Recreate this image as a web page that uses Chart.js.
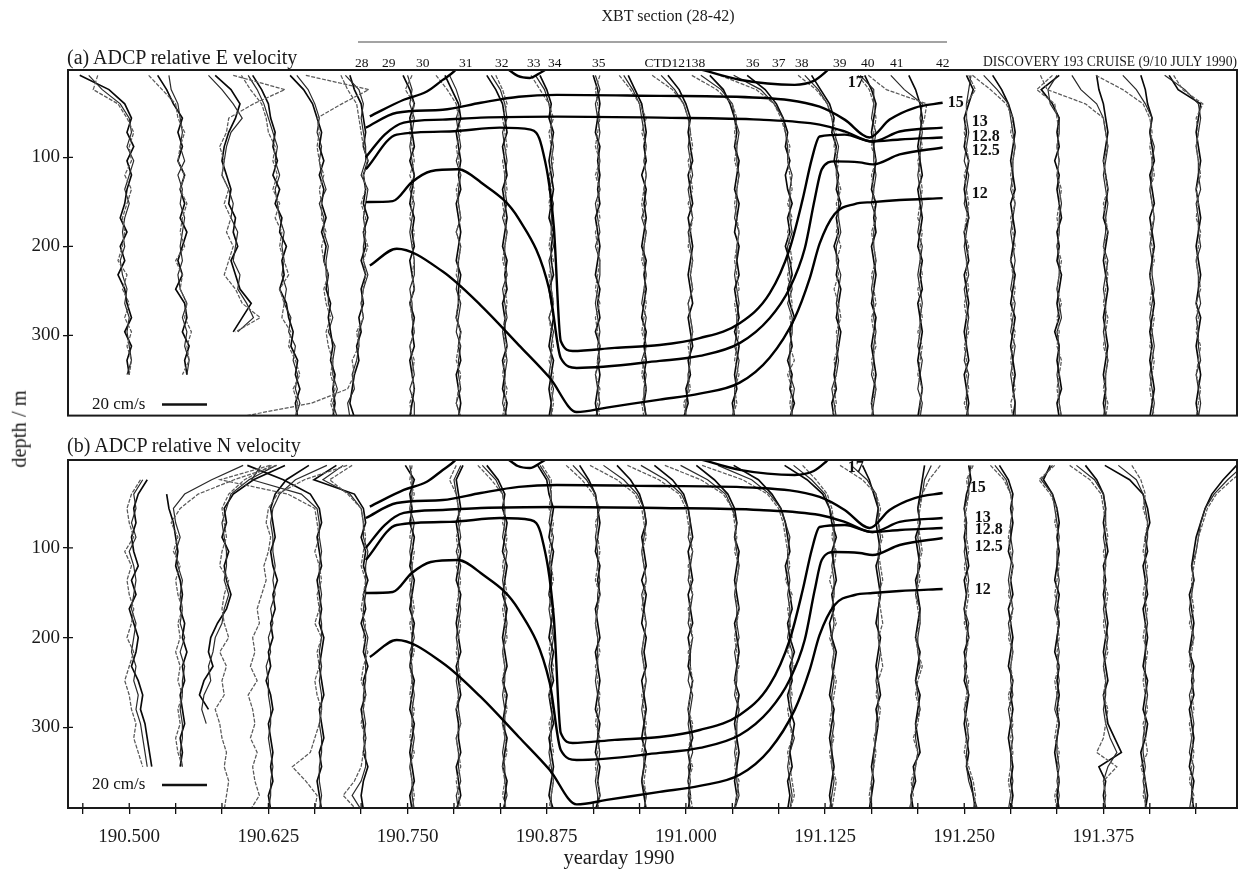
<!DOCTYPE html>
<html>
<head>
<meta charset="utf-8">
<title>ADCP relative velocity profiles, Discovery 193</title>
<script src="https://cdn.jsdelivr.net/npm/chart.js@4.4.1/dist/chart.umd.min.js"></script>
<style>
  html, body { margin: 0; padding: 0; background: #fff; }
  #page { position: relative; width: 1238px; height: 873px; overflow: hidden; background: #fff;
          font-family: 'Liberation Serif', 'Times New Roman', serif; color: #1a1a1a; }
  canvas { position: absolute; left: 0; }
  .t { position: absolute; white-space: nowrap; line-height: 1; z-index: 2; }
  .rule { position: absolute; left: 358px; top: 41px; width: 589px; height: 2px; background: #a3a3a3; }
</style>
</head>
<body>
<div id="page">
  <canvas id="chartE" width="1238" height="430" style="top:0;width:1238px;height:430px"></canvas>
  <canvas id="chartN" width="1238" height="443" style="top:430px;width:1238px;height:443px"></canvas>

  <div class="t" style="left:668px;top:8px;font-size:16px;transform:translateX(-50%)">XBT section (28-42)</div>
  <div class="rule"></div>
  <div class="t" style="right:1px;top:55px;font-size:13.6px">DISCOVERY 193 CRUISE (9/10 JULY 1990)</div>
  <div class="t" style="left:67px;top:47px;font-size:20px">(a) ADCP relative E velocity</div>
  <div class="t" style="left:67px;top:435px;font-size:20px">(b) ADCP relative N velocity</div>
  <div class="t" style="left:19px;top:429px;font-size:20.5px;transform:translate(-50%,-50%) rotate(-90deg)">depth / m</div>
  <div class="t" style="left:619px;top:847px;font-size:20.5px;transform:translateX(-50%)">yearday 1990</div>
</div>

<script>
// ---- axes ----
const X_MIN = 190.445, X_MAX = 191.495;   // yearday 1990
const Y_MIN = 2, Y_MAX = 390;             // depth, m
const depthTicks = [100, 200, 300];
const hourTicks = [190.4583, 190.5000, 190.5417, 190.5833, 190.6250, 190.6667, 190.7083, 190.7500,
                   190.7917, 190.8333, 190.8750, 190.9167, 190.9583, 191.0000, 191.0417, 191.0833,
                   191.1250, 191.1667, 191.2083, 191.2500, 191.2917, 191.3333, 191.3750, 191.4167, 191.4583];
const tickLabels = ['', '190.500', '', '', '190.625', '', '', '190.750', '', '', '190.875', '', '',
                    '191.000', '', '', '191.125', '', '', '191.250', '', '', '191.375', '', ''];

// ---- hourly ADCP profiles ----
const profileDays = [190.5000, 190.5417, 190.5833, 190.6250, 190.6667, 190.7083, 190.7500, 190.7917,
                     190.8333, 190.8750, 190.9167, 190.9583, 191.0000, 191.0417, 191.0833, 191.1250,
                     191.1667, 191.2083, 191.2500, 191.2917, 191.3333, 191.3750, 191.4167, 191.4583];
const depthLevels = [8, 24, 40, 56, 72, 88, 104, 120, 136, 152, 168, 184, 200,
                     216, 232, 248, 264, 280, 296, 312, 328, 344, 360, 376, 392];

// relative E velocity, cm/s (one row per profile, one value per depth level); three ensembles
const eastDark = [
  [-22,-9,-2,1,-1,2,-1,1,-1,-2,-4,-1,-4,-2,-5,-2,-1,1,-2,1,-1,0,null,null,null],
  [-8,-4,-1,3,1,3,1,4,2,4,2,5,3,1,3,0,4,5,3,6,4,5,null,null,null],
  [-3,4,8,6,3,1,0,2,4,3,6,5,7,4,6,8,13,9,5,null,null,null,null,null,null],
  [-7,-3,0,1,3,2,4,2,5,3,6,5,8,6,7,5,8,9,11,10,13,12,14,12,13],
  [-11,-5,-1,1,3,2,4,2,4,3,5,3,5,4,6,5,7,6,7,8,7,9,8,9,8],
  [-5,-3,0,1,2,1,3,1,2,1,3,1,2,0,2,0,1,-1,0,-2,-1,-3,-4,-5,-3],
  [-2,1,3,1,2,3,1,3,2,1,3,2,3,1,2,3,1,3,2,3,1,2,3,2,1],
  [-4,-1,2,3,1,2,3,2,3,1,2,3,2,1,3,2,2,1,3,2,3,1,2,3,2],
  [-6,-2,1,2,3,1,2,3,1,2,3,2,1,3,2,3,1,2,2,3,1,2,1,3,2],
  [-3,0,2,1,3,2,1,2,3,2,1,3,2,2,3,1,2,3,2,1,3,2,1,2,1],
  [0,2,3,2,1,3,2,3,2,3,1,2,3,2,1,3,2,3,1,3,2,3,2,1,2],
  [-5,-2,1,2,3,2,3,1,3,2,3,2,1,3,2,3,2,1,3,2,3,2,3,2,3],
  [-8,-3,0,2,1,2,3,1,2,3,1,2,3,2,1,2,3,1,2,3,1,2,0,1,-1],
  [-10,-4,-1,1,2,1,3,2,1,3,2,1,3,2,3,1,2,3,1,3,2,1,2,0,1],
  [-14,-6,-1,2,4,3,5,3,4,6,4,5,3,5,6,4,5,7,5,6,4,6,5,7,5],
  [-6,-2,2,4,3,5,4,6,5,7,5,6,4,6,5,7,6,5,7,6,5,4,5,3,4],
  [-3,0,2,1,0,1,2,1,0,2,1,2,0,1,2,1,0,2,1,0,1,2,1,0,1],
  [-4,-1,1,2,1,0,1,2,0,1,2,1,0,2,1,2,0,1,2,1,0,1,2,1,0],
  [1,4,2,0,1,0,2,1,0,1,2,0,1,2,0,1,2,1,0,1,2,0,1,2,1],
  [-8,-4,-1,1,2,1,0,1,2,0,1,2,1,0,2,1,0,2,1,0,1,2,1,2,1],
  [1,-7,-2,1,0,1,-1,1,0,1,2,0,1,0,2,1,0,1,-1,1,0,1,2,0,1],
  [-3,-2,0,1,2,1,0,1,2,1,0,2,1,0,1,2,1,0,1,2,1,0,1,0,1],
  [-4,-2,-1,1,0,1,2,0,1,2,0,1,2,1,0,1,2,1,0,1,0,1,2,1,0],
  [-12,-8,2,1,0,1,2,1,0,1,2,1,0,1,2,1,0,2,1,0,1,2,1,0,1]
];
const eastMid = [
  [-18,-12,-4,0,1,-1,2,0,-2,0,-2,-3,-2,-4,-3,-1,-2,0,-1,0,1,-1,null,null,null],
  [-3,-2,1,2,3,2,4,1,3,2,4,3,2,3,1,2,5,3,5,4,6,5,null,null,null],
  [-6,0,5,9,4,2,1,0,3,5,4,7,6,5,8,7,11,14,7,null,null,null,null,null,null],
  [-9,-5,-2,0,2,4,3,5,3,4,5,7,6,7,6,8,7,10,9,12,11,13,12,14,12],
  [-8,-3,0,2,1,3,2,3,5,2,4,4,6,5,5,6,6,8,6,9,8,8,10,8,10],
  [-7,-1,1,0,1,2,2,0,3,2,1,2,1,1,3,1,0,1,-1,-1,-2,-4,-3,-6,-5],
  [0,2,1,3,2,1,2,3,1,3,2,1,2,3,3,1,2,2,3,1,2,3,1,3,3],
  [-2,1,3,1,2,3,1,3,2,2,3,1,3,2,2,1,3,2,1,3,2,2,3,1,3],
  [-4,0,2,3,1,2,3,2,2,3,1,3,2,2,3,1,2,3,1,2,3,2,2,1,3],
  [-5,-1,1,2,2,3,2,3,1,3,2,2,3,1,2,2,3,1,3,2,2,1,3,2,2],
  [1,3,1,2,3,2,3,2,3,1,2,3,1,3,3,2,1,2,3,2,3,1,2,3,1],
  [-7,-3,0,1,2,3,2,3,2,3,1,3,2,2,3,2,1,3,2,3,1,3,2,2,3],
  [-11,-5,-1,1,2,1,2,3,1,2,3,1,2,3,2,3,1,2,3,2,2,1,1,0,0],
  [-14,-5,0,1,3,2,2,3,2,2,1,3,2,2,1,2,3,2,2,1,3,2,1,1,0],
  [-20,-8,-2,2,3,4,4,6,5,5,5,6,4,4,5,6,4,6,6,5,5,5,7,6,6],
  [-9,-3,1,3,4,6,5,5,6,6,6,7,5,5,7,6,5,6,6,5,6,5,3,4,5],
  [-5,1,1,0,2,1,1,2,1,0,2,1,1,2,1,0,1,1,2,1,1,0,2,1,0],
  [-12,-6,2,1,2,1,1,0,1,2,1,0,2,1,0,1,2,1,1,0,2,1,0,2,1],
  [3,2,1,1,2,1,0,2,1,0,2,1,0,1,2,0,1,2,1,1,0,2,1,1,2],
  [-12,-6,-1,0,1,2,1,1,0,2,1,0,1,2,1,0,2,1,0,2,1,0,1,2,2],
  [0,-4,-3,1,1,0,1,0,1,2,1,1,0,1,1,0,1,2,0,1,1,0,1,1,2],
  [-14,-10,-3,0,1,2,1,0,1,2,1,1,0,2,1,0,1,1,0,1,2,1,1,1,0],
  [-12,-6,-2,1,0,2,1,1,0,1,2,1,0,1,1,2,1,0,1,2,1,0,1,2,1],
  [-14,-5,1,2,1,0,1,1,2,0,1,1,2,0,1,1,2,0,1,1,2,0,1,2,1]
];
const eastLight = [
  [-14,-16,-5,-1,2,0,1,-2,1,-1,-3,-2,-3,-5,-1,-3,0,-2,1,-1,1,0,null,null,null],
  [-12,-6,0,1,4,2,1,4,2,5,3,2,4,0,3,2,5,4,7,5,6,3,null,null,null],
  [5,28,14,3,2,-1,1,0,3,1,4,2,5,3,1,6,9,17,6,null,null,null,null,null,null],
  [-12,-8,-3,-1,0,3,2,4,2,5,3,6,5,7,9,5,7,6,10,9,12,14,11,13,12],
  [-4,24,12,1,2,1,2,4,2,3,3,5,3,4,6,4,5,7,5,6,8,7,9,7,9],
  [-9,-6,-2,-1,0,1,3,1,2,0,2,1,3,1,2,1,0,1,-2,-1,-4,-3,-6,-22,-55],
  [2,-1,3,2,1,2,3,1,3,2,1,3,2,3,2,3,1,2,3,1,3,2,3,1,2],
  [-8,-3,1,2,3,1,2,3,1,2,3,1,3,2,1,3,2,1,3,2,1,3,2,1,3],
  [-2,1,3,1,2,3,1,2,3,1,2,3,2,1,3,2,3,2,1,3,2,1,3,2,1],
  [-7,-3,1,3,1,2,3,1,2,1,3,2,1,3,1,2,3,1,2,3,1,3,2,3,2],
  [3,1,2,3,2,1,3,1,3,2,3,1,2,3,2,1,3,1,2,3,2,1,3,2,3],
  [-9,-4,0,3,1,3,2,3,2,1,2,3,2,1,3,2,3,2,1,3,2,1,3,1,2],
  [-15,-6,-1,1,2,3,1,2,3,1,3,2,1,3,2,3,1,2,3,1,2,1,2,-1,0],
  [-18,-7,0,2,1,2,1,3,2,1,2,3,2,1,2,3,1,2,3,2,1,3,1,2,0],
  [-26,-10,-2,1,3,5,4,5,6,4,6,4,5,6,4,5,6,5,6,5,7,4,6,5,6],
  [-12,-4,1,3,5,4,6,5,7,5,6,5,7,5,6,4,6,7,5,6,4,5,4,5,3],
  [-6,-1,1,2,1,0,2,0,1,1,2,0,1,2,0,1,2,0,1,2,0,1,2,0,1],
  [-22,-14,4,3,1,2,0,1,2,1,0,2,1,1,2,0,1,2,0,2,1,0,2,1,1],
  [2,5,1,1,0,1,2,0,1,2,1,0,2,1,1,2,0,1,2,0,1,1,2,0,2],
  [-17,-9,-2,1,0,2,1,0,1,2,0,1,2,0,1,2,1,0,2,1,0,1,2,0,1],
  [-2,-9,-1,0,1,0,1,0,2,1,0,1,0,2,1,0,2,0,1,0,2,1,0,1,2],
  [-28,-25,-8,0,1,2,0,1,2,0,1,2,0,1,2,1,0,2,1,0,2,1,0,2,1],
  [-24,-12,-3,0,1,0,1,2,0,1,2,0,1,2,0,1,0,2,1,0,2,1,0,1,2],
  [-10,-6,3,0,1,0,1,2,0,1,0,2,1,0,1,2,0,1,0,2,1,0,2,1,0]
];

// relative N velocity, cm/s
const northDark = [
  [null,8,4,2,3,1,2,4,1,3,0,2,4,3,1,4,6,5,7,8,9,10,null,null,null],
  [null,null,-4,-3,-1,0,1,0,2,3,2,4,3,5,3,4,2,3,4,2,3,2,null,null,null],
  [28,14,5,1,2,0,3,1,2,4,2,-2,-5,-6,-4,-8,-10,-6,null,null,null,null,null,null,null],
  [18,8,3,1,2,3,1,2,4,2,3,1,2,0,1,-1,1,2,0,1,2,1,2,0,1],
  [-30,-14,-2,2,3,1,2,3,1,2,3,2,4,3,2,3,4,2,3,4,2,3,1,2,3],
  [-11,-21,-3,1,2,0,2,1,3,1,2,0,2,1,3,1,2,0,1,2,1,3,1,0,1],
  [-1,3,1,2,1,3,2,1,3,2,1,3,2,2,1,3,2,1,3,2,1,2,3,1,2],
  [4,1,2,3,1,2,3,2,1,3,2,1,2,3,1,2,3,1,2,2,3,1,2,3,1],
  [-6,-1,2,1,3,2,1,3,2,1,3,2,1,2,3,1,3,2,1,3,2,1,3,2,2],
  [-4,0,1,3,2,1,3,2,2,1,3,2,1,3,2,3,1,2,3,1,2,3,2,1,3],
  [-6,-2,1,2,3,2,1,3,2,3,1,2,3,1,2,3,2,1,3,2,1,3,2,3,1],
  [-10,-4,0,2,3,1,2,3,1,3,2,1,3,2,3,1,2,3,2,1,3,2,1,2,3],
  [-14,-6,-1,1,2,3,1,2,3,1,2,3,1,2,1,3,2,1,2,3,1,2,1,2,1],
  [-16,-8,-2,1,2,1,3,2,1,2,3,1,2,3,2,1,3,2,1,2,3,2,1,2,1],
  [-20,-9,-3,1,3,4,5,3,4,5,6,4,5,7,5,6,4,5,7,6,5,6,4,5,4],
  [-18,-8,-1,2,3,5,3,4,5,3,4,2,3,5,4,3,2,4,3,2,3,4,3,2,3],
  [-4,-1,1,3,2,3,4,2,3,4,3,2,4,3,2,3,4,2,3,2,1,0,1,0,-1],
  [3,2,1,0,1,-1,0,1,-1,0,1,0,-1,1,0,-1,1,0,-1,0,1,-2,-1,-3,-2],
  [2,3,1,0,1,0,1,2,0,1,0,1,2,0,1,0,2,1,0,1,2,1,3,4,5],
  [-5,-1,1,0,1,0,-1,1,0,1,-1,0,1,0,-1,1,0,1,0,-1,0,1,0,1,0],
  [-3,-6,-2,0,1,0,1,0,-1,1,0,1,0,-1,1,0,1,0,1,0,-1,0,1,0,1],
  [-8,-3,0,1,0,1,2,0,1,0,1,2,1,0,1,2,0,1,2,5,8,-2,1,0,1],
  [-20,-9,-3,-1,0,-2,-1,-3,-2,-1,-3,-2,-1,-2,-3,-1,-2,-3,-1,-2,-4,-3,-2,-1,-2],
  [18,12,7,4,2,0,-1,-2,-1,-3,-2,-1,-2,-3,-1,-2,-1,-3,-2,-1,-2,-3,-1,-2,-1]
];
const northMid = [
  [null,6,2,3,1,3,0,2,3,2,1,3,2,1,3,2,4,3,5,6,7,8,null,null,null],
  [30,16,4,-1,0,2,0,1,3,2,3,2,4,2,4,3,3,2,3,3,2,3,null,null,null],
  [24,12,4,2,0,1,2,2,1,3,1,0,-3,-4,-6,-5,-8,-9,-7,null,null,null,null,null,null],
  [26,12,5,2,1,2,2,3,2,3,1,2,0,1,-1,0,0,1,1,0,1,2,1,1,0],
  [-24,-28,-6,1,2,2,3,2,2,3,2,3,3,2,3,2,3,3,2,3,3,2,2,3,2],
  [-8,-17,-5,0,1,1,3,2,2,2,1,1,3,2,2,2,1,1,2,1,2,2,0,-4,0],
  [1,2,2,1,3,2,1,2,2,1,2,2,3,1,2,2,3,2,2,3,2,1,2,2,3],
  [3,0,1,2,2,3,1,3,2,2,3,2,1,2,2,1,2,2,3,1,2,2,3,1,2],
  [-8,-2,1,2,2,1,3,2,1,2,2,3,2,1,2,2,1,2,2,2,1,2,2,3,1],
  [-3,1,2,2,1,3,2,1,2,2,1,2,3,2,1,2,2,3,2,2,1,2,3,2,2],
  [-9,-3,1,2,2,1,2,2,3,2,2,1,2,2,2,1,2,3,2,2,3,2,1,2,2],
  [-16,-7,-1,2,3,2,1,2,3,1,2,3,2,1,2,3,2,1,2,3,2,2,1,3,2],
  [-20,-9,-2,1,2,1,3,2,1,3,2,1,3,2,2,1,3,2,1,2,3,1,2,1,2],
  [-23,-11,-3,0,2,1,2,3,2,1,2,2,3,1,2,2,1,3,2,2,1,2,2,3,1],
  [-27,-12,-4,1,3,5,4,4,5,4,5,5,4,6,6,5,5,6,5,7,5,4,5,6,5],
  [-14,-6,0,2,4,4,4,3,4,4,3,4,3,4,3,4,3,3,4,3,3,3,4,3,2],
  [-9,-2,2,3,3,4,3,3,4,4,3,3,3,4,3,2,3,3,2,2,1,1,0,0,0],
  [6,3,2,0,1,0,1,0,0,-1,1,1,0,0,1,-1,0,1,-1,-1,0,-1,-2,-3,-3],
  [3,2,2,0,1,1,0,1,2,1,0,2,1,1,0,1,2,0,1,2,1,1,2,4,6],
  [-7,-2,0,1,0,0,1,0,-1,0,1,-1,0,1,0,0,1,-1,0,1,0,0,1,0,-1],
  [-2,-7,-2,-1,0,1,0,0,1,0,-1,1,0,1,0,1,0,-1,1,0,0,1,0,1,0],
  [-12,-4,0,1,1,0,1,1,0,1,0,1,2,1,0,1,1,0,1,3,6,2,0,1,0],
  [-14,-6,-3,-2,-1,-1,-2,-2,-1,-2,-2,-1,-2,-2,-2,-2,-1,-2,-2,-3,-3,-2,-3,-2,-2],
  [21,14,8,4,2,1,0,-2,-1,-2,-3,-2,-1,-3,-2,-1,-3,-2,-1,-2,-3,-1,-2,-2,-3]
];
const northLight = [
  [null,5,1,-1,0,2,-2,1,-1,0,2,1,-1,2,0,-2,0,1,3,2,4,6,null,null,null],
  [45,26,10,2,-2,1,-1,2,0,1,3,1,2,0,2,1,3,1,2,0,1,3,null,null,null],
  [22,10,3,0,1,2,0,-1,3,1,0,1,3,-1,2,0,1,-3,-1,0,2,1,3,2,1],
  [35,16,4,0,-1,1,0,-2,-1,-3,-5,-4,-7,-6,-8,-5,-9,-7,-6,-8,-5,-7,-6,-4,-8],
  [-20,-42,-12,0,1,2,0,2,3,1,2,0,3,1,2,0,1,3,2,0,-2,-10,-4,1,0],
  [-4,-14,-6,0,1,2,1,0,2,1,0,2,1,3,1,0,2,1,0,2,1,0,-3,-8,-2],
  [2,1,3,1,2,1,3,2,1,2,3,1,2,3,1,2,1,3,2,1,3,1,2,3,2],
  [1,-2,1,2,3,1,2,1,3,2,1,3,2,1,2,3,2,1,3,1,2,3,1,2,3],
  [-10,-4,1,2,1,3,2,1,2,3,1,2,3,1,2,1,2,3,1,2,3,1,2,1,3],
  [-2,2,2,1,3,2,1,2,3,1,2,3,2,1,3,2,1,3,1,2,3,1,3,2,1],
  [-12,-5,0,3,1,2,3,2,1,3,2,1,2,3,1,2,3,2,1,3,2,1,2,3,2],
  [-22,-10,-2,1,2,3,1,2,3,2,1,3,2,1,2,3,1,2,3,2,1,3,2,3,2],
  [-26,-12,-3,0,1,2,3,1,2,3,1,2,3,1,2,3,2,1,3,2,1,3,1,2,3],
  [-30,-14,-4,0,1,2,1,3,2,1,3,2,1,2,3,1,2,3,2,1,2,1,3,2,1],
  [-34,-16,-5,0,2,3,4,5,3,6,4,5,6,4,7,5,6,4,5,6,4,5,6,7,5],
  [-10,-4,1,3,4,3,5,4,2,4,3,5,2,4,3,5,4,3,2,4,2,3,5,4,3],
  [-14,-4,2,4,3,5,3,4,5,3,4,5,3,4,5,3,2,4,3,1,2,1,0,-1,0],
  [10,5,2,1,0,1,2,0,1,-1,0,1,-1,0,2,0,-1,1,0,-2,0,-1,-3,-2,-4],
  [4,1,2,1,0,1,2,0,1,2,1,0,2,1,0,2,1,0,2,1,0,2,4,5,4],
  [-9,-3,0,1,0,-1,0,1,0,-1,1,0,-1,1,0,1,-1,0,1,0,1,0,-1,0,1],
  [-1,-8,-3,0,-1,1,0,1,0,-1,1,0,1,0,1,-1,0,1,0,-1,1,0,1,-1,0],
  [-15,-6,-1,0,1,2,0,1,0,2,1,0,1,2,0,1,0,2,1,0,-3,6,0,1,0],
  [-8,-4,-2,-3,-1,-2,-3,-1,-2,-3,-1,-2,-3,-1,-2,-3,-2,-1,-3,-2,-1,-4,-2,-3,-1],
  [24,16,9,5,3,1,0,-1,-2,-2,-1,-3,-1,-2,-3,-1,-2,-1,-3,-2,-1,-2,-3,-1,-2]
];

// ---- XBT isotherms, [yearday, depth m] ----
const iso17West = [[190.7161,54],[190.7466,35.4],[190.7673,26.2],[190.7816,13.1],[190.7915,3.9],[190.7940,0]];
const iso17Mid  = [[190.8391,0],[190.8490,8.7],[190.8597,10.9],[190.8705,4.2],[190.8759,0]];
const iso17East = [[191.0124,1],[191.0483,13],[191.0977,18.7],[191.1148,14.3],[191.1256,4.2],[191.1290,0]];
const iso15 = [[190.7125,66.7],[190.7403,50],[190.7816,46.6],[190.8157,38.8],[190.8499,32],[190.8840,29.9],
               [190.9765,31],[191.0663,33.2],[191.1201,43.2],[191.1426,57.7],[191.1650,77.8],[191.1830,57.7],
               [191.2055,44.4],[191.2306,38.8]];
const iso13 = [[190.7125,100],[190.7295,74.5],[190.7466,61],[190.7816,57.7],[190.8157,55.5],[190.8840,54.4],
               [190.9765,55.5],[191.0663,57.7],[191.1201,63.3],[191.1426,71],[191.1677,82.3],[191.1920,71],
               [191.2306,66.7]];
const iso128 = [[190.7125,113.5],[190.7403,74.5],[190.7879,71],[190.8328,66.7],[190.8606,68.9],[190.8705,87.8],
                [190.8813,177],[190.8876,306.3],[190.8983,317.5],[190.9360,314],[190.9765,310.8],[191.0124,303],
                [191.0483,286.3],[191.0752,252.8],[191.0932,202.7],[191.1049,147],[191.1130,102.3],[191.1201,76.7],
                [191.1426,74.5],[191.1677,82.3],[191.1920,80],[191.2306,77.8]];
const iso125 = [[190.7125,150.3],[190.7367,149.2],[190.7538,128],[190.7708,115.7],[190.7951,113.5],[190.8157,128],
                [190.8499,169.2],[190.8777,250.6],[190.8876,325.3],[190.9019,336.5],[190.9765,328.6],[191.0124,323],
                [191.0483,308.6],[191.0752,280.7],[191.0932,247],[191.1067,202.7],[191.1157,147],[191.1220,113.5],
                [191.1336,104.6],[191.1561,105.7],[191.1677,108],[191.1920,96.8],[191.2306,89]];
const iso12 = [[190.7161,221.6],[190.7403,202.7],[190.7816,228.3],[190.8157,266.2],[190.8499,310.8],[190.8777,347.6],
               [190.9019,386],[190.9288,381],[190.9765,372],[191.0124,365.4],[191.0483,353],[191.0752,325],
               [191.0977,280.6],[191.1112,236],[191.1201,197],[191.1336,163.6],[191.1516,152.5],[191.1677,150.3],
               [191.1920,148],[191.2306,145.8]];

// ---- XBT station labels ----
const stationNames = ['28','29','30','31','32','33','34','35','CTD12138','36','37','38','39','40','41','42'];
const stationDays  = [190.7089,190.7331,190.7636,190.8023,190.8346,190.8633,190.8822,190.9217,
                      190.9900,191.0600,191.0834,191.1040,191.1381,191.1633,191.1893,191.2306];

// ---- drawing ----
const SERIF = "'Liberation Serif', 'Times New Roman', serif";
const VEL_TO_DAY = 2.25 / 1113.6;   // horizontal displacement of 1 cm/s, in days
const isotherms = [iso17West, iso17Mid, iso17East, iso15, iso13, iso128, iso125, iso12];

function profileSets(dark, mid, light) {
  const sets = [];
  const styles = [[light, '#5a5a5a', 1.25, [4, 1.5]], [mid, '#2a2a2a', 1.2, []], [dark, '#080808', 1.65, []]];
  styles.forEach(([rows, color, width, dash]) => {
    rows.forEach((row, i) => {
      const pts = [];
      row.forEach((u, j) => {
        if (u !== null) pts.push({ x: profileDays[i] + u * VEL_TO_DAY, y: depthLevels[j] });
      });
      sets.push({ data: pts, borderColor: color, borderWidth: width, borderDash: dash,
                  pointRadius: 0, tension: 0, order: 1 });
    });
  });
  return sets;
}
function isothermSets() {
  return isotherms.map(line => ({
    data: line.map(([d, z]) => ({ x: d, y: z })),
    borderColor: '#000', borderWidth: 2.4, pointRadius: 0,
    cubicInterpolationMode: 'monotone', order: 0
  }));
}

const panelDecor = {
  id: 'panelDecor',
  afterDatasetsDraw(chart, args, o) {
    const { ctx, chartArea: a, scales: { x, y } } = chart;
    ctx.save();
    // inner half of the tick marks
    ctx.strokeStyle = '#111'; ctx.lineWidth = 1.3;
    ctx.beginPath();
    y.ticks.forEach(t => { const py = y.getPixelForValue(t.value); ctx.moveTo(a.left, py); ctx.lineTo(a.left + 5, py); });
    if (o.innerXTicks) {
      x.ticks.forEach(t => { const px = x.getPixelForValue(t.value); ctx.moveTo(px, a.bottom); ctx.lineTo(px, a.bottom - 5); });
    }
    ctx.stroke();
    // frame
    ctx.lineWidth = 2; ctx.strokeStyle = '#1a1a1a';
    ctx.strokeRect(a.left, a.top, a.right - a.left, a.bottom - a.top);
    // isotherm values
    ctx.fillStyle = '#111';
    ctx.font = 'bold 16px ' + SERIF; ctx.textAlign = 'left'; ctx.textBaseline = 'middle';
    o.isoLabels.forEach(l => ctx.fillText(l.text, x.getPixelForValue(l.day), y.getPixelForValue(l.depth)));
    // velocity scale bar
    const barLen = x.getPixelForValue(X_MIN + 20 * VEL_TO_DAY) - x.getPixelForValue(X_MIN);
    const by = a.bottom - o.barRaise;
    ctx.font = '17px ' + SERIF; ctx.textBaseline = 'middle';
    ctx.fillText('20 cm/s', 92, by);
    ctx.lineWidth = 2.5; ctx.strokeStyle = '#111';
    ctx.beginPath(); ctx.moveTo(162, by); ctx.lineTo(162 + barLen, by); ctx.stroke();
    // station labels above the top panel
    if (o.stations) {
      ctx.font = '13.5px ' + SERIF; ctx.textAlign = 'center'; ctx.textBaseline = 'alphabetic';
      stationNames.forEach((s, i) => ctx.fillText(s, x.getPixelForValue(stationDays[i]), a.top - 3.5));
    }
    ctx.restore();
  }
};

function makeChart(id, sets, cfg) {
  return new Chart(document.getElementById(id), {
    type: 'line',
    data: { datasets: sets },
    options: {
      responsive: false, animation: false, events: [], parsing: false,
      layout: { padding: cfg.padding },
      plugins: {
        legend: { display: false }, tooltip: { enabled: false },
        panelDecor: cfg.decor
      },
      scales: {
        x: {
          type: 'linear', min: X_MIN, max: X_MAX, display: cfg.showX,
          afterBuildTicks: s => { s.ticks = hourTicks.map(v => ({ value: v })); },
          afterFit: s => { s.height = cfg.showX ? 65 : 0; },
          ticks: { autoSkip: false, maxRotation: 0, minRotation: 0, padding: 12, color: '#1a1a1a',
                   font: { family: SERIF, size: 19 }, callback: (v, i) => tickLabels[i] },
          grid: { drawOnChartArea: false, tickLength: 6, color: '#111', lineWidth: 1.3 },
          border: { display: false }
        },
        y: {
          type: 'linear', reverse: true, min: Y_MIN, max: Y_MAX,
          afterBuildTicks: s => { s.ticks = depthTicks.map(v => ({ value: v })); },
          afterFit: s => { s.width = 68; },
          ticks: { padding: 3, color: '#1a1a1a', font: { family: SERIF, size: 19 }, callback: v => String(v) },
          grid: { drawOnChartArea: false, tickLength: 5, color: '#111', lineWidth: 1.3 },
          border: { display: false }
        }
      }
    },
    plugins: [panelDecor]
  });
}

makeChart('chartE', isothermSets().concat(profileSets(eastDark, eastMid, eastLight)), {
  padding: { top: 70, right: 1, bottom: 12, left: 0 },
  showX: false,
  decor: {
    innerXTicks: false, stations: true, barRaise: 11,
    isoLabels: [
      { text: '17', day: 191.1453, depth: 16.5 }, { text: '15', day: 191.2351, depth: 38.8 },
      { text: '13', day: 191.2567, depth: 60 },   { text: '12.8', day: 191.2567, depth: 77.5 },
      { text: '12.5', day: 191.2567, depth: 93 }, { text: '12', day: 191.2567, depth: 141.4 }
    ]
  }
});
makeChart('chartN', isothermSets().concat(profileSets(northDark, northMid, northLight)), {
  padding: { top: 30, right: 1, bottom: 0, left: 0 },
  showX: true,
  decor: {
    innerXTicks: true, stations: false, barRaise: 23,
    isoLabels: [
      { text: '17', day: 191.1453, depth: 11 },   { text: '15', day: 191.2549, depth: 33.2 },
      { text: '13', day: 191.2594, depth: 66.7 }, { text: '12.8', day: 191.2594, depth: 80 },
      { text: '12.5', day: 191.2594, depth: 99 }, { text: '12', day: 191.2594, depth: 147 }
    ]
  }
});
</script>
</body>
</html>
